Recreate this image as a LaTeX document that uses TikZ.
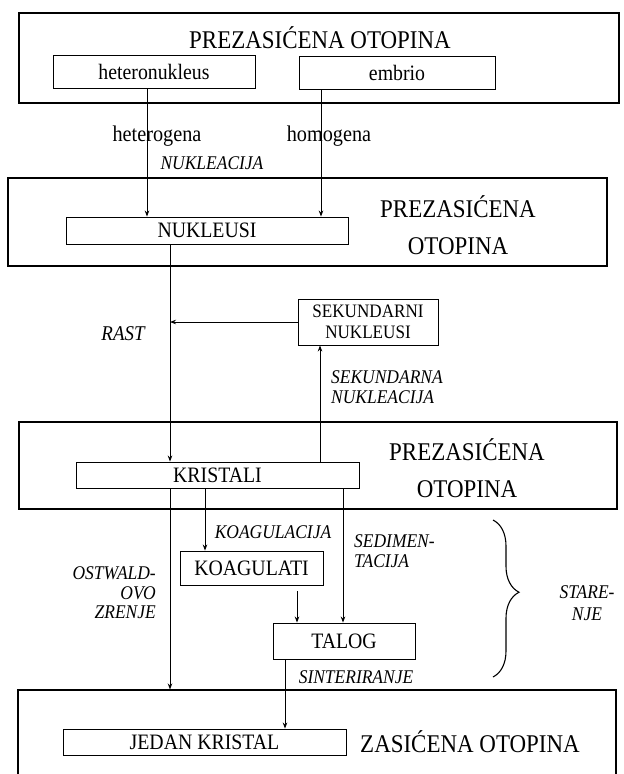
\documentclass[tikz,border=0pt]{standalone}
\usepackage{fontspec}
\setmainfont{Liberation Serif}[FakeStretch=0.9]
\usetikzlibrary{arrows.meta,decorations.pathreplacing}
\tikzset{
 outbox/.style={draw, line width=1.1pt, inner sep=0pt},
 inbox/.style={draw, fill=white, line width=0.9pt, inner sep=0pt, font=\fontsize{22}{26}\selectfont},
 big/.style={inner sep=0pt, font=\fontsize{25.5}{37}\selectfont, align=center},
 lbl/.style={inner sep=0pt, font=\fontsize{22.5}{26}\selectfont},
 itl/.style={inner sep=0pt, font=\fontsize{19.4}{19.5}\selectfont\itshape},
 conn/.style={line width=0.8pt, -{Stealth[length=6pt,width=4.5pt]}},
 cline/.style={line width=0.8pt}
}
\begin{document}
\begin{tikzpicture}[x=1pt,y=-1pt]
\useasboundingbox (0,0) rectangle (624,774);
\clip (0,0) rectangle (624,774);
% outer boxes
\node[outbox, minimum width=600pt, minimum height=90pt] (b1) at (319,58) {};
\node[outbox, minimum width=599pt, minimum height=88pt] (b2) at (307.5,222) {};
\node[outbox, minimum width=598pt, minimum height=87pt] (b3) at (318,465.5) {};
\node[outbox, minimum width=598pt, minimum height=120pt] (b4) at (317,750) {};
% titles
\node[big] (t1) at (320,38) {PREZASIĆENA OTOPINA};
\node[big] (t2) at (458,225) {PREZASIĆENA\\OTOPINA};
\node[big] (t3) at (467,468) {PREZASIĆENA\\OTOPINA};
\node[big] (t4) at (470,742) {ZASIĆENA OTOPINA};
% coordinates for vertical connectors
\coordinate (x1) at (147,0);
\coordinate (x2) at (321,0);
\coordinate (x3) at (170,0);
\coordinate (x4) at (320,0);
\coordinate (x5) at (205,0);
\coordinate (x6) at (343,0);
\coordinate (x7) at (297,0);
\coordinate (x8) at (285,0);
% inner boxes
\node[inbox, minimum width=202pt, minimum height=33pt] (het) at (154,71.5) {heteronukleus};
\node[inbox, minimum width=196pt, minimum height=33pt] (emb) at (397,72.5) {embrio};
\node[inbox, minimum width=282pt, minimum height=27pt] (nuk) at (207,230.5) {NUKLEUSI};
\node[inbox, minimum width=140pt, minimum height=46pt, align=center, font=\fontsize{19}{21}\selectfont] (sek) at (368,322) {SEKUNDARNI\\NUKLEUSI};
\node[inbox, minimum width=283pt, minimum height=26pt] (kri) at (217.5,475) {KRISTALI};
\node[inbox, minimum width=143pt, minimum height=34pt] (koa) at (251.5,568) {KOAGULATI};
\node[inbox, minimum width=142pt, minimum height=36pt] (tal) at (344,641) {TALOG};
\node[inbox, minimum width=283pt, minimum height=26pt] (jed) at (204.5,742) {JEDAN KRISTAL};
% connectors
\draw[conn] (het.south -| x1) -- (nuk.north -| x1);
\draw[conn] (emb.south -| x2) -- (nuk.north -| x2);
\draw[conn] (nuk.south -| x3) -- (kri.north -| x3);
\draw[conn] (sek.west) -- (sek.west -| x3);
\draw[conn] (kri.north -| x4) -- (sek.south -| x4);
\draw[conn] (kri.south -| x3) -- (b4.north -| x3);
\draw[conn] (kri.south -| x5) -- (koa.north -| x5);
\draw[conn] (kri.south -| x6) -- (tal.north -| x6);
\draw[conn, shorten <=6pt] (koa.south -| x7) -- (tal.north -| x7);
\draw[conn] (tal.south -| x8) -- (jed.north -| x8);
% labels
\node[lbl] (lhet) at (157,136) {heterogena};
\node[lbl] (lhom) at (329,136) {homogena};
\node[itl] (lnuk) at (212,163) {NUKLEACIJA};
\node[itl, font=\fontsize{21}{21}\selectfont\itshape] (lrast) at (123,334) {RAST};
\node[itl, align=left, anchor=west] (lsek) at (331,387) {SEKUNDARNA\\NUKLEACIJA};
\node[itl] (lkoa) at (273,532) {KOAGULACIJA};
\node[itl, align=left, anchor=west] (lsed) at (354,551) {SEDIMEN-\\TACIJA};
\node[itl, align=right, anchor=east] (lost) at (156,593) {OSTWALD-\\OVO\\ZRENJE};
\node[itl] (lsin) at (356,677) {SINTERIRANJE};
\node[itl, align=center, font=\fontsize{19.4}{22}\selectfont\itshape] (lsta) at (587,603) {STARE-\\NJE};
% brace
\coordinate (br1) at (493,520);
\coordinate (br2) at (493,677);
\draw[line width=1.1pt, decorate, decoration={brace, amplitude=26pt, aspect=0.46}] (br1) -- (br2);
\end{tikzpicture}
\end{document}
